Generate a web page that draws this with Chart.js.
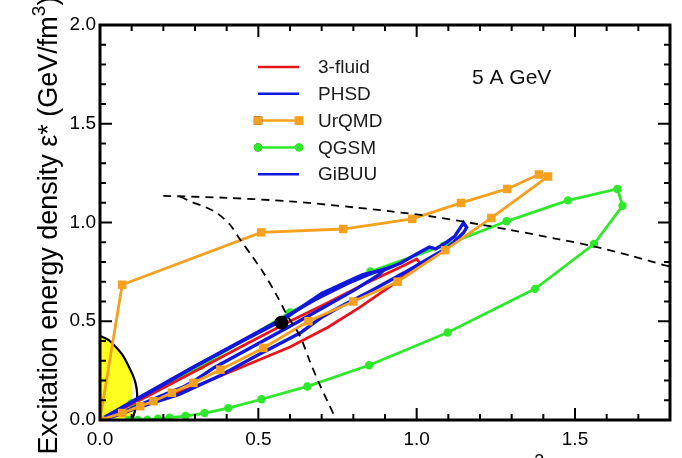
<!DOCTYPE html>
<html>
<head>
<meta charset="utf-8">
<title>Phase trajectories, 5 A GeV</title>
<script src="https://cdn.jsdelivr.net/npm/chart.js@4.4.1/dist/chart.umd.min.js"></script>
<style>
    html, body { margin: 0; padding: 0; background: #fff; overflow: hidden; }
    #wrap { width: 682px; height: 458px; overflow: hidden; }
    canvas { display: block; }
</style>
</head>
<body>
<div id="wrap"><canvas id="trajectoryChart" width="682" height="490"></canvas></div>
<script>
// -------- Data (baryon density n_B, excitation energy density eps*) --------
const xTickValues = [0.0, 0.5, 1.0, 1.5];
const yTickValues = [0.0, 0.5, 1.0, 1.5, 2.0];

const threeFluidX = [0, 0.15, 0.3, 0.45, 0.6, 0.7, 0.85, 0.95, 1.0, 1.01, 0.92, 0.82, 0.72, 0.6, 0.45, 0.3, 0.15, 0];
const threeFluidY = [0, 0.12, 0.247, 0.375, 0.5, 0.578, 0.7, 0.775, 0.815, 0.795, 0.68, 0.57, 0.47, 0.37, 0.27, 0.17, 0.08, 0];

const phsdX = [0, 0.1, 0.2, 0.3, 0.45, 0.57, 0.7, 0.78, 0.83, 0.9, 0.95, 1.0, 1.04, 1.06, 1.09, 1.12, 1.148, 1.158, 1.148, 1.12, 1.096, 1.03, 0.96, 0.854, 0.76, 0.7, 0.632, 0.5, 0.38, 0.25, 0.12, 0.05, 0];
const phsdY = [0, 0.088, 0.178, 0.272, 0.4, 0.5, 0.64, 0.7, 0.736, 0.762, 0.795, 0.84, 0.875, 0.866, 0.895, 0.93, 0.998, 0.975, 0.948, 0.905, 0.871, 0.81, 0.745, 0.652, 0.575, 0.52, 0.44, 0.33, 0.225, 0.13, 0.063, 0.022, 0];

const urqmdX = [0, 0.07, 0.509, 0.768, 0.986, 1.14, 1.286, 1.386, 1.415, 1.236, 1.09, 0.94, 0.8, 0.658, 0.516, 0.38, 0.295, 0.227, 0.169, 0.127, 0.07, 0];
const urqmdY = [0, 0.685, 0.95, 0.967, 1.018, 1.099, 1.17, 1.243, 1.233, 1.023, 0.86, 0.70, 0.6, 0.5, 0.365, 0.255, 0.188, 0.138, 0.095, 0.07, 0.035, 0];

const qgsmX = [0.09, 0.12, 0.15, 0.183, 0.22, 0.27, 0.33, 0.405, 0.51, 0.655, 0.85, 1.098, 1.374, 1.56, 1.65, 1.634, 1.478, 1.284, 1.086, 0.854, 0.6, 0.32, 0.1, 0];
const qgsmY = [0, 0.0, 0.002, 0.006, 0.012, 0.02, 0.035, 0.06, 0.105, 0.17, 0.277, 0.443, 0.664, 0.891, 1.085, 1.17, 1.112, 1.006, 0.883, 0.752, 0.545, 0.275, 0.085, 0];

const gibuuX = [0, 0.1, 0.25, 0.4, 0.55, 0.68, 0.78, 0.86, 0.9, 0.88, 0.8, 0.7, 0.6, 0.48, 0.36, 0.3, 0.26, 0.22, 0.16, 0.08, 0];
const gibuuY = [0, 0.092, 0.228, 0.36, 0.49, 0.61, 0.69, 0.745, 0.765, 0.735, 0.655, 0.565, 0.475, 0.37, 0.265, 0.2, 0.165, 0.14, 0.1, 0.045, 0];

// phase boundary (dashed, nearly flat) and spinodal-like dashed curve
const boundaryX = [0.2, 0.4, 0.6, 0.8, 0.92, 1.05, 1.2, 1.29, 1.45, 1.56, 1.68, 1.8];
const boundaryY = [1.135, 1.125, 1.107, 1.077, 1.056, 1.03, 0.99, 0.964, 0.915, 0.879, 0.83, 0.776];

const spinodalX = [0.253, 0.285, 0.33, 0.369, 0.41, 0.443, 0.48, 0.516, 0.555, 0.593, 0.632, 0.662, 0.696, 0.72, 0.743];
const spinodalY = [1.132, 1.107, 1.08, 1.048, 0.99, 0.913, 0.83, 0.746, 0.64, 0.525, 0.424, 0.3, 0.171, 0.09, 0.01];

// nuclear matter region near the origin
const nuclearX = [0, 0.025, 0.047, 0.07, 0.09, 0.104, 0.112, 0.117, 0.116, 0.11, 0.102];
const nuclearY = [0.426, 0.407, 0.375, 0.332, 0.274, 0.226, 0.188, 0.14, 0.09, 0.045, 0.0];

const criticalX = [0.573];
const criticalY = [0.493];

const energyLabel = '5 A GeV';

// -------- Helpers --------
const FONT = '"Liberation Sans", Arial, Helvetica, sans-serif';

function zip(xs, ys) {
    return xs.map((x, i) => ({ x, y: ys[i] }));
}

// text with superscript / subscript pieces, centred on x
function drawRich(ctx, parts, x, y, size) {
    const fontFor = k => `${k ? Math.round(size * 0.7) : size}px ${FONT}`;
    let total = 0;
    parts.forEach(([t, k]) => { ctx.font = fontFor(k); total += ctx.measureText(t).width; });
    let cx = x - total / 2;
    ctx.textAlign = 'left';
    ctx.textBaseline = 'alphabetic';
    parts.forEach(([t, k]) => {
        ctx.font = fontFor(k);
        const dy = k === 'sup' ? -size * 0.45 : (k === 'sub' ? size * 0.22 : 0);
        ctx.fillText(t, cx, y + dy);
        cx += ctx.measureText(t).width;
    });
}

// -------- Plugins --------
// box frame with inward major/minor ticks on all four sides
const frameTicks = {
    id: 'frameTicks',
    afterDatasetsDraw(chart) {
        const { ctx, chartArea: a, scales: { x, y } } = chart;
        const seg = (x1, y1, x2, y2) => { ctx.beginPath(); ctx.moveTo(x1, y1); ctx.lineTo(x2, y2); ctx.stroke(); };
        ctx.save();
        ctx.strokeStyle = '#000';
        ctx.lineWidth = 2;
        for (let i = 0; i <= Math.round(x.max * 10); i++) {
            const px = x.getPixelForValue(i / 10);
            const len = i % 5 === 0 ? 12 : 6;
            seg(px, a.bottom, px, a.bottom - len);
            seg(px, a.top, px, a.top + len);
        }
        for (let i = 0; i <= Math.round(y.max * 10); i++) {
            const py = y.getPixelForValue(i / 10);
            const len = i % 5 === 0 ? 12 : 6;
            seg(a.left, py, a.left + len, py);
            seg(a.right, py, a.right - len, py);
        }
        ctx.lineWidth = 3;
        ctx.strokeRect(a.left, a.top, a.right - a.left, a.bottom - a.top);
        ctx.restore();
    }
};

// in-plot legend, energy label and axis titles
const annotations = {
    id: 'annotations',
    afterDraw(chart) {
        const { ctx, chartArea: a } = chart;
        ctx.save();

        const items = chart.data.datasets.filter(d => d.inLegend);
        items.forEach((d, i) => {
            const yy = 67 + i * 26.8;
            ctx.strokeStyle = d.borderColor;
            ctx.lineWidth = 2.5;
            ctx.beginPath();
            ctx.moveTo(258, yy);
            ctx.lineTo(299, yy);
            ctx.stroke();
            if (d.pointRadius > 0) {
                [258, 299].forEach(px => {
                    Chart.helpers.drawPoint(ctx, {
                        pointStyle: d.pointStyle, radius: d.pointRadius, borderWidth: 0
                    }, px, yy);
                    ctx.fillStyle = d.pointBackgroundColor;
                    ctx.fill();
                });
            }
            ctx.fillStyle = '#1a1a1a';
            ctx.font = `19px ${FONT}`;
            ctx.textAlign = 'left';
            ctx.textBaseline = 'middle';
            ctx.fillText(d.label, 318, yy + 1);
        });

        ctx.fillStyle = '#111';
        ctx.font = `21px ${FONT}`;
        ctx.textAlign = 'left';
        ctx.textBaseline = 'middle';
        ctx.fillText(energyLabel, 472, 78);

        // y title
        ctx.fillStyle = '#000';
        ctx.save();
        ctx.translate(57, (a.top + a.bottom) / 2 + 3);
        ctx.rotate(-Math.PI / 2);
        drawRich(ctx, [['Excitation energy density \u03B5*', ''], [' (GeV/fm', ''], ['3', 'sup'], [')', '']], 0, 0, 27);
        ctx.restore();

        // x title
        drawRich(ctx, [['Net baryon density n', ''], ['B', 'sub'], [' (1/fm', ''], ['3', 'sup'], [')', '']], (a.left + a.right) / 2, 479, 26);

        ctx.restore();
    }
};

// -------- Chart --------
class TrajectoryPlot {
    constructor() {
        this.chart = null;
        this.init();
    }

    init() {
        Chart.defaults.font.family = FONT;
        Chart.defaults.color = '#000';
        this.createChart();
    }

    modelLine(label, xs, ys, color, order, extra = {}) {
        return Object.assign({
            label,
            data: zip(xs, ys),
            showLine: true,
            borderColor: color,
            backgroundColor: color,
            pointBackgroundColor: color,
            pointBorderWidth: 0,
            borderWidth: 2.8,
            pointRadius: 0,
            tension: 0,
            fill: false,
            inLegend: true,
            order
        }, extra);
    }

    buildDatasets() {
        return [
            this.modelLine('3-fluid', threeFluidX, threeFluidY, '#e8141c', 5),
            this.modelLine('PHSD', phsdX, phsdY, '#1018dc', 3, { borderWidth: 3.4 }),
            this.modelLine('UrQMD', urqmdX, urqmdY, '#f5a01e', 2, { pointStyle: 'rect', pointRadius: 6 }),
            this.modelLine('QGSM', qgsmX, qgsmY, '#2ee82a', 6, { pointStyle: 'circle', pointRadius: 4.2 }),
            this.modelLine('GiBUU', gibuuX, gibuuY, '#1018dc', 4, { borderWidth: 3.4 }),
            {
                label: 'boundary', data: zip(boundaryX, boundaryY), showLine: true,
                borderColor: '#000', borderWidth: 1.8, borderDash: [8, 6], pointRadius: 0,
                tension: 0.3, fill: false, order: 1
            },
            {
                label: 'spinodal', data: zip(spinodalX, spinodalY), showLine: true,
                borderColor: '#000', borderWidth: 1.8, borderDash: [8, 6], pointRadius: 0,
                tension: 0.3, fill: false, order: 1
            },
            {
                label: 'nuclear', data: zip(nuclearX, nuclearY), showLine: true,
                borderColor: '#000', borderWidth: 2.2, backgroundColor: '#ffff1e',
                pointRadius: 0, tension: 0.3, fill: 'origin', order: 9
            },
            {
                label: 'critical point', data: zip(criticalX, criticalY), showLine: false,
                pointRadius: 7, pointBackgroundColor: '#000', pointBorderWidth: 0, order: 0
            }
        ];
    }

    createChart() {
        const ctx = document.getElementById('trajectoryChart').getContext('2d');
        const tickFont = { size: 19, family: FONT };

        this.chart = new Chart(ctx, {
            type: 'scatter',
            data: { datasets: this.buildDatasets() },
            options: {
                responsive: false,
                animation: false,
                events: [],
                layout: { padding: { left: 0, right: 12, top: 25, bottom: 0 } },
                plugins: { legend: { display: false }, tooltip: { enabled: false } },
                scales: {
                    x: {
                        type: 'linear', min: 0, max: 1.8,
                        grid: { display: false, drawTicks: false },
                        border: { display: false },
                        afterBuildTicks: s => { s.ticks = xTickValues.map(v => ({ value: v })); },
                        afterFit: s => { s.height = 70; },
                        ticks: { font: tickFont, color: '#000', padding: 8, maxRotation: 0, autoSkip: false,
                                 callback: v => Number(v).toFixed(1) }
                    },
                    y: {
                        type: 'linear', min: 0, max: 2.0,
                        grid: { display: false, drawTicks: false },
                        border: { display: false },
                        afterBuildTicks: s => { s.ticks = yTickValues.map(v => ({ value: v })); },
                        afterFit: s => { s.width = 100; },
                        ticks: { font: tickFont, color: '#000', padding: 4, autoSkip: false,
                                 callback: v => Number(v).toFixed(1) }
                    }
                }
            },
            plugins: [frameTicks, annotations]
        });
    }
}

new TrajectoryPlot();
</script>
</body>
</html>
